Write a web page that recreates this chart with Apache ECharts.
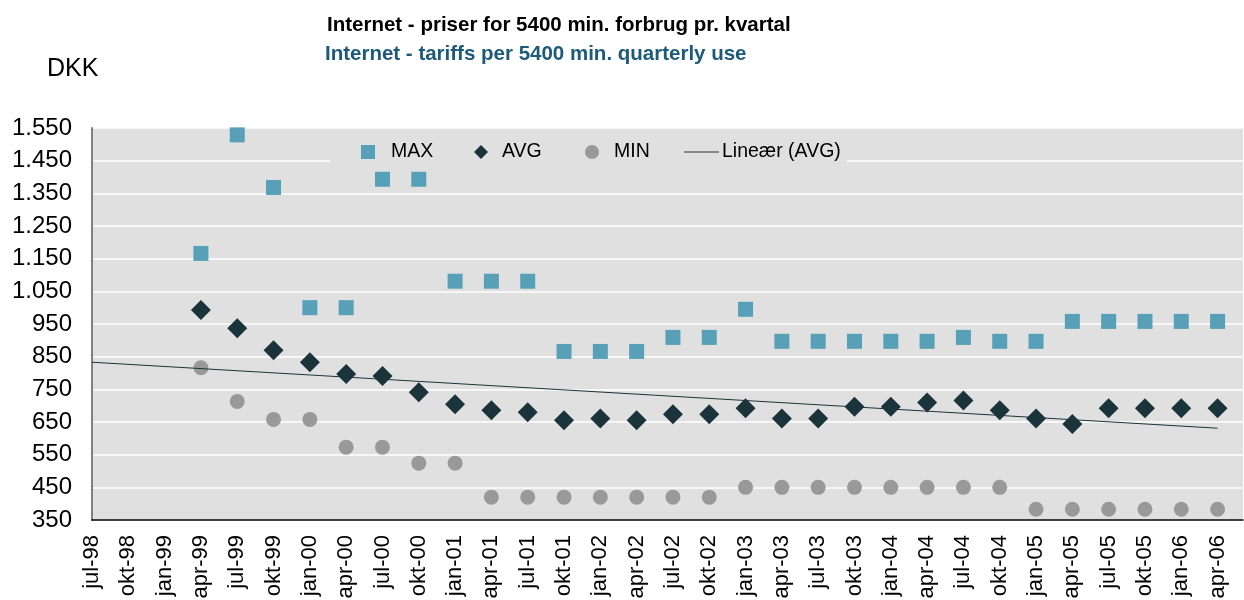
<!DOCTYPE html>
<html>
<head>
<meta charset="utf-8">
<script src="https://cdn.jsdelivr.net/npm/echarts@6/dist/echarts.min.js"></script>
<style>
  html, body { margin: 0; padding: 0; background: #fff; }
  #chart { width: 1244px; height: 600px; }
</style>
</head>
<body>
<div id="chart"></div>
<script>
// quarters on the x axis
const quarters = ['jul-98', 'okt-98', 'jan-99', 'apr-99', 'jul-99', 'okt-99', 'jan-00', 'apr-00',
  'jul-00', 'okt-00', 'jan-01', 'apr-01', 'jul-01', 'okt-01', 'jan-02', 'apr-02',
  'jul-02', 'okt-02', 'jan-03', 'apr-03', 'jul-03', 'okt-03', 'jan-04', 'apr-04',
  'jul-04', 'okt-04', 'jan-05', 'apr-05', 'jul-05', 'okt-05', 'jan-06', 'apr-06']

const maxValues = [null, null, null, 1166, 1529, 1368, 1000, 1000,
  1393, 1393, 1081, 1081, 1081, 866, 866, 866,
  909, 909, 995, 897, 897, 897, 897, 897,
  909, 897, 897, 958, 958, 958, 958, 958]

const avgValues = [null, null, null, 993, 937, 870, 833, 797,
  791, 741, 704, 686, 680, 655, 661, 655,
  674, 674, 692, 661, 661, 697, 697, 710,
  716, 686, 661, 644, 692, 692, 692, 692]

const minValues = [null, null, null, 816, 713, 658, 658, 573,
  573, 524, 524, 420, 420, 420, 420, 420,
  420, 420, 450, 450, 450, 450, 450, 450,
  450, 450, 383, 383, 383, 383, 383, 383]

// linear trend of AVG, read at first and last quarter
const trendEnds = [833, 631]

const yTicks = [350, 450, 550, 650, 750, 850, 950, 1050, 1150, 1250, 1350, 1450, 1550]

const toPoints = arr => arr.map((v, i) => [i, v]).filter(p => p[1] !== null)

const font = 'Liberation Sans, Arial, sans-serif'

const chart = echarts.init(document.getElementById('chart'))

const legendBase = {
  top: 142,
  padding: 0,
  itemWidth: 14,
  itemHeight: 14,
  z: 1,
  selectedMode: false,
  textStyle: { fontFamily: font, fontSize: 19.5, color: '#000' }
}

chart.setOption({
  animation: false,
  title: [{
    text: 'Internet - priser for 5400 min. forbrug pr. kvartal',
    left: 322,
    top: 10,
    textStyle: { fontFamily: font, fontSize: 20.5, fontWeight: 'bold', color: '#000' }
  }, {
    text: 'Internet - tariffs per 5400 min. quarterly use',
    left: 320,
    top: 39,
    textStyle: { fontFamily: font, fontSize: 20.5, fontWeight: 'bold', color: '#1b5a7a' }
  }, {
    text: 'DKK',
    left: 42,
    top: 52,
    textStyle: { fontFamily: font, fontSize: 25, fontWeight: 'normal', color: '#000' }
  }],
  graphic: [{
    // legend box hides the grid line behind it
    type: 'rect',
    z: 1,
    shape: { x: 330, y: 129, width: 517, height: 64 },
    style: { fill: '#e0e0e0' }
  }],
  legend: [
    Object.assign({}, legendBase, {
      left: 361, data: [{ name: 'MAX', icon: 'rect' }],
      textStyle: Object.assign({}, legendBase.textStyle, { padding: [0, 0, 0, 11] })
    }),
    Object.assign({}, legendBase, {
      left: 474, data: [{ name: 'AVG', icon: 'diamond' }],
      textStyle: Object.assign({}, legendBase.textStyle, { padding: [0, 0, 0, 9] })
    }),
    Object.assign({}, legendBase, {
      left: 585, data: [{ name: 'MIN', icon: 'circle' }],
      textStyle: Object.assign({}, legendBase.textStyle, { padding: [0, 0, 0, 10] })
    }),
    Object.assign({}, legendBase, {
      left: 684, itemWidth: 35, itemHeight: 1.2,
      data: [{ name: 'Lineær (AVG)', icon: 'rect', itemStyle: { color: '#1b343c' } }],
      textStyle: Object.assign({}, legendBase.textStyle, { padding: [0, 0, 0, -2] })
    })
  ],
  grid: {
    left: 92,
    right: 1,
    top: 128,
    bottom: 80,
    outerBoundsMode: 'none',
    show: true,
    backgroundColor: '#e0e0e0',
    borderWidth: 0
  },
  xAxis: {
    type: 'value',
    min: 0,
    max: 31.7,
    axisLine: { onZero: false, lineStyle: { color: '#000', width: 1.5 } },
    axisTick: { show: false },
    splitLine: { show: false },
    axisLabel: {
      customValues: quarters.map((q, i) => i),
      formatter: v => quarters[Math.round(v)],
      rotate: 90,
      margin: 15,
      fontFamily: font,
      fontSize: 22,
      color: '#000'
    }
  },
  yAxis: {
    type: 'value',
    min: 350,
    max: 1550,
    axisLine: { show: true, lineStyle: { color: '#808080', width: 2 } },
    axisTick: { show: false, customValues: yTicks },
    splitLine: { show: true, lineStyle: { color: '#ffffff', width: 1.5 } },
    axisLabel: {
      customValues: yTicks,
      formatter: v => String(v).replace(/\B(?=(\d{3})+(?!\d))/g, '.'),
      margin: 20,
      fontFamily: font,
      fontSize: 24,
      color: '#000'
    }
  },
  series: [{
    name: 'MAX',
    type: 'scatter',
    symbol: 'rect',
    symbolSize: 15,
    itemStyle: { color: '#57a0b7', opacity: 1 },
    data: toPoints(maxValues)
  }, {
    name: 'AVG',
    type: 'scatter',
    symbol: 'diamond',
    symbolSize: 20,
    itemStyle: { color: '#1b343c', opacity: 1 },
    data: toPoints(avgValues)
  }, {
    name: 'MIN',
    type: 'scatter',
    symbol: 'circle',
    symbolSize: 15,
    itemStyle: { color: '#999999', opacity: 1 },
    data: toPoints(minValues)
  }, {
    name: 'Lineær (AVG)',
    type: 'line',
    symbol: 'none',
    itemStyle: { color: '#1b343c' },
    lineStyle: { color: '#1b343c', width: 1 },
    data: [[0, trendEnds[0]], [quarters.length - 1, trendEnds[1]]]
  }]
})
</script>
</body>
</html>
